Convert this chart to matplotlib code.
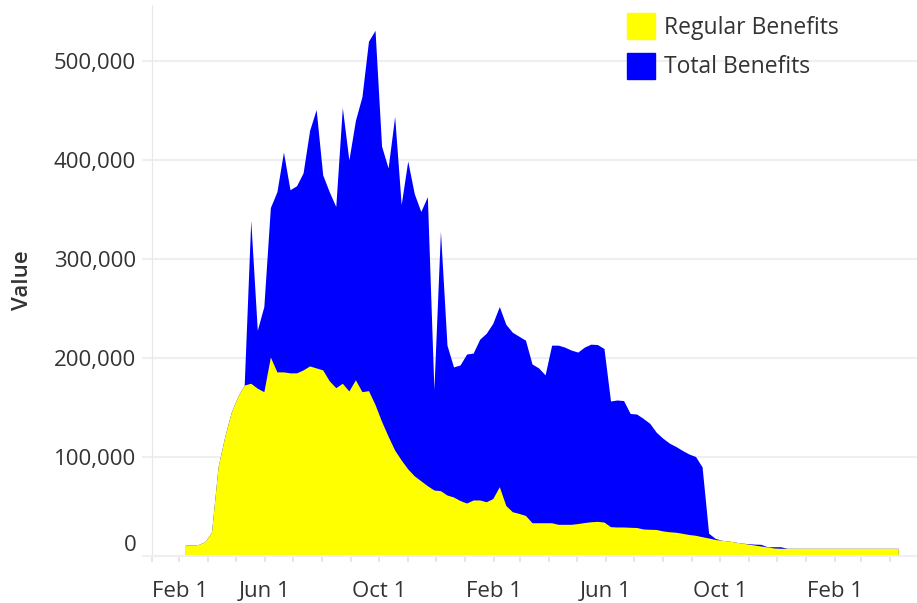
import matplotlib
matplotlib.use('Agg')
import matplotlib.pyplot as plt
import matplotlib.dates as mdates
import matplotlib.ticker as mticker
from matplotlib.patches import Patch
import pandas as pd

# weekly observations, values in thousands
weeks = pd.date_range('2020-03-08', periods=110, freq='7D')

regular_k = [11.1, 11.1, 11.6, 14.6, 24, 90, 120, 145, 161, 172.7,
             174.5, 169.5, 166, 201, 186, 186, 185, 185, 188, 192,
             190, 188, 177, 170, 174.5, 166.7, 178, 166, 167, 153,
             136, 121, 107, 97, 88, 81, 76, 71, 66.7, 66,
             61.6, 59.6, 56, 53.5, 56.6, 56.6, 54.8, 58, 70, 51,
             44.7, 43, 41, 33.6, 33.6, 33.6, 33.6, 32, 32, 32,
             32.8, 33.8, 34.6, 35, 34.3, 29.6, 29.3, 29.3, 29, 28.8,
             27.3, 27, 26.8, 25.3, 24.5, 24, 22.9, 21.7, 20.9, 19.5,
             18.2, 16.7, 15.9, 15.2, 14.1, 13.1, 12.1, 11.1, 10.1, 9.1,
             8.1, 7.8, 7.8, 7.8, 7.8, 7.8, 7.8, 7.8, 7.8, 7.8,
             7.8, 7.8, 7.8, 7.8, 7.8, 7.8, 7.8, 7.8, 7.8, 7.8]

total_k = [11.1, 11.1, 11.6, 14.6, 24, 90, 120, 145, 161, 172.7,
           339, 228, 252, 352, 368, 408, 370, 374, 387, 430,
           451, 385, 368, 353, 453, 400, 440, 464, 520, 531,
           414, 392, 444, 355, 399, 366, 348, 363, 168, 328,
           213, 191, 193, 204, 205, 219, 225, 235, 252, 234,
           226, 222, 218, 194, 190, 183, 213, 213, 211, 208,
           206, 211, 214, 213.6, 209.6, 156.6, 157.6, 157, 144, 143.4,
           139, 134, 125, 119, 114, 110.6, 106.6, 103, 100.5, 90,
           23, 17.8, 15.9, 15.2, 14.1, 13.1, 12.5, 12, 11.8, 9.2,
           9.4, 9.4, 7.8, 7.8, 7.8, 7.8, 7.8, 7.8, 7.8, 7.8,
           7.8, 7.8, 7.8, 7.8, 7.8, 7.8, 7.8, 7.8, 7.8, 7.8]

regular = [v * 1000 for v in regular_k]
total = [v * 1000 for v in total_k]

tick_dates = pd.to_datetime(['2020-02-01', '2020-06-01', '2020-10-01', '2021-02-01',
                             '2021-06-01', '2021-10-01', '2022-02-01'])
y_ticks = [0, 100000, 200000, 300000, 400000, 500000]

plt.rcParams['font.family'] = ['Open Sans', 'DejaVu Sans']
txt = '#333333'
grid = '#efefef'

fig = plt.figure(figsize=(9.17, 6.03), dpi=100)
ax = fig.add_axes([151.7 / 917, 47 / 603, (917 - 151.7) / 917, 551 / 603])

ax.fill_between(weeks, total, color='#0000ff', lw=0)
ax.fill_between(weeks, regular, color='#ffff00', lw=0)

ax.set_xlim(pd.Timestamp('2020-02-01'), pd.Timestamp('2022-04-30'))
ax.set_ylim(0, 556600)

# y axis
ax.set_yticks(y_ticks)
ax.yaxis.set_major_formatter(mticker.FuncFormatter(lambda v, p: f'{v:,.0f}'))
ax.yaxis.grid(True, color=grid, lw=1.5)
ax.set_axisbelow(True)
ax.tick_params(axis='y', length=7.2, width=1.5, color=grid, pad=4,
               labelsize=16, labelcolor=txt)

# x axis
ax.set_xticks(tick_dates)
ax.set_xticklabels([f'{d:%b} {d.day}' for d in tick_dates])
ax.xaxis.set_minor_locator(mdates.MonthLocator())
ax.tick_params(axis='x', which='both', length=4.3, width=1.2, color='#e2e2e2',
               pad=14, labelsize=16, labelcolor=txt)

for s in ['top', 'right']:
    ax.spines[s].set_visible(False)
ax.spines['left'].set_color('#e8e8e8')
ax.spines['bottom'].set_color(grid)
ax.spines['bottom'].set_linewidth(1.5)

# edge labels pushed inside, like the original
ax.xaxis.get_major_ticks()[0].label1.set_horizontalalignment('left')
ax.yaxis.get_major_ticks()[0].label1.set_verticalalignment('bottom')

ax.set_ylabel('Value', fontsize=16, color=txt, fontweight='semibold')
ax.yaxis.set_label_coords(-129 / 765.3, 0.5)
ax.yaxis.label.set_verticalalignment('center')

handles = [Patch(color='#ffff00', label='Regular Benefits'),
           Patch(color='#0000ff', label='Total Benefits')]
leg = fig.legend(handles=handles, loc='upper left', bbox_to_anchor=(627 / 917, 1 - 13 / 603),
                 frameon=False, fontsize=16.5, handlelength=1.2, handleheight=1.35,
                 handletextpad=0.42, labelspacing=0.58, borderpad=0, borderaxespad=0)
for t in leg.get_texts():
    t.set_color(txt)

fig.savefig('out.png', dpi=100)
